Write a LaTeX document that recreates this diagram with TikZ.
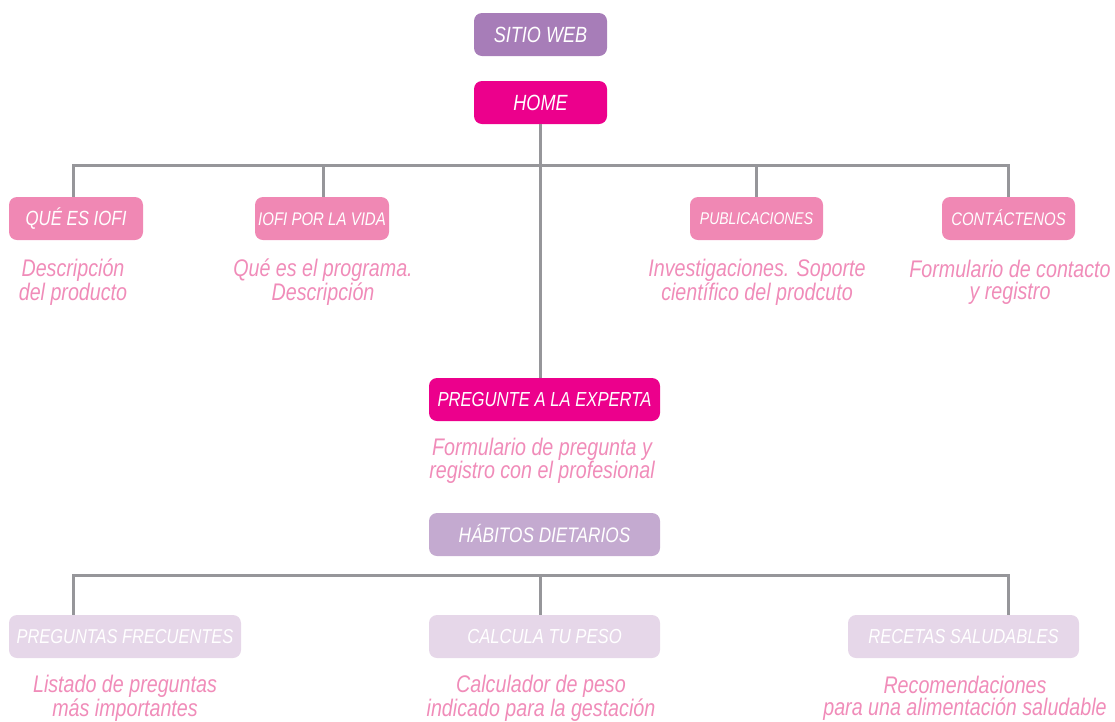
\documentclass[tikz,border=0pt]{standalone}
\usepackage{fontspec}
\setmainfont{Liberation Sans}[FakeStretch=0.82]
\definecolor{cPurple}{RGB}{167,125,184}
\definecolor{cMagenta}{RGB}{236,0,140}
\definecolor{cPink}{RGB}{240,136,180}
\definecolor{cLilac}{RGB}{196,170,208}
\definecolor{cPale}{RGB}{230,215,233}
\definecolor{cDesc}{RGB}{240,140,185}
\definecolor{cLine}{RGB}{150,150,154}
\begin{document}
\begin{tikzpicture}[x=1pt,y=-1pt,
  box/.style={rounded corners=8pt, minimum height=43pt, inner sep=0pt, text=white, anchor=center},
  fs/.style={font=\fontsize{#1}{#1}\selectfont\itshape, text height=0.72*#1 pt, text depth=0pt},
  desc/.style={align=center, text=cDesc, font=\fontsize{24}{22}\selectfont\itshape, inner sep=0pt},
  conn/.style={draw=cLine, line width=3pt}]
\useasboundingbox (0,0) rectangle (1115,721);
% top level
\node[box, fill=cPurple, minimum width=133pt, fs=22] (SITIO) at (540.5,34.5) {SITIO WEB};
\node[box, fill=cMagenta, minimum width=133pt, fs=22] (HOME) at (540.5,102.5) {HOME};
% second level
\node[box, fill=cPink, minimum width=134pt, fs=20.5] (QUE) at (76,218.5) {QUÉ ES IOFI};
\node[box, fill=cPink, minimum width=134pt, fs=18.3] (IOFI) at (322,218.5) {IOFI POR LA VIDA};
\node[box, fill=cPink, minimum width=133pt, fs=17] (PUB) at (756.5,218.5) {PUBLICACIONES};
\node[box, fill=cPink, minimum width=133pt, fs=18.2] (CONT) at (1008.5,218.5) {CONTÁCTENOS};
\node[desc] (dQUE) at (73,282) {Descripción\\del producto};
\node[desc] (dIOFI) at (323,282) {Qué es el programa.\\Descripción};
\node[desc] (dPUB) at (757,282) {Investigaciones. Soporte\\científico del prodcuto};
\node[desc] (dCONT) at (1010,282) {Formulario de contacto\\y registro};
% expert
\node[box, fill=cMagenta, minimum width=231pt, fs=20.3] (PREG) at (544.5,399.5) {PREGUNTE A LA EXPERTA};
\node[desc] (dPREG) at (542,461) {Formulario de pregunta y\\registro con el profesional};
% habits
\node[box, fill=cLilac, minimum width=231pt, fs=21] (HAB) at (544.5,534.5) {HÁBITOS DIETARIOS};
\node[box, fill=cPale, minimum width=232pt, fs=20] (PF) at (125,636.5) {PREGUNTAS FRECUENTES};
\node[box, fill=cPale, minimum width=231pt, fs=20.3] (CALC) at (544.5,636.5) {CALCULA TU PESO};
\node[box, fill=cPale, minimum width=231pt, fs=20.2] (REC) at (963.5,636.5) {RECETAS SALUDABLES};
\node[desc] (dPF) at (125,698.5) {Listado de preguntas\\más importantes};
\node[desc] (dCALC) at (541,698.5) {Calculador de peso\\indicado para la gestación};
\node[desc] (dREC) at (965,698.5) {Recomendaciones\\para una alimentación saludable};
% connectors top
\coordinate (hub) at (540,165);
\draw[conn] ([xshift=-3pt]QUE.north) |- (hub) -| ([xshift=-0.5pt]CONT.north);
\draw[conn] ([xshift=1pt]IOFI.north) -- ([xshift=1pt]IOFI.north |- hub);
\draw[conn] ([xshift=-0.5pt]PUB.north) -- ([xshift=-0.5pt]PUB.north |- hub);
\draw[conn] ([xshift=-0.5pt]HOME.south) -- ([xshift=-0.5pt]HOME.south |- PREG.north);
% connectors bottom
\coordinate (hub2) at (540,575);
\draw[conn] ([xshift=-52pt]PF.north) |- (hub2) -| ([xshift=44.5pt]REC.north);
\draw[conn] ([xshift=-4.5pt]CALC.north) -- (hub2);
\end{tikzpicture}
\end{document}
